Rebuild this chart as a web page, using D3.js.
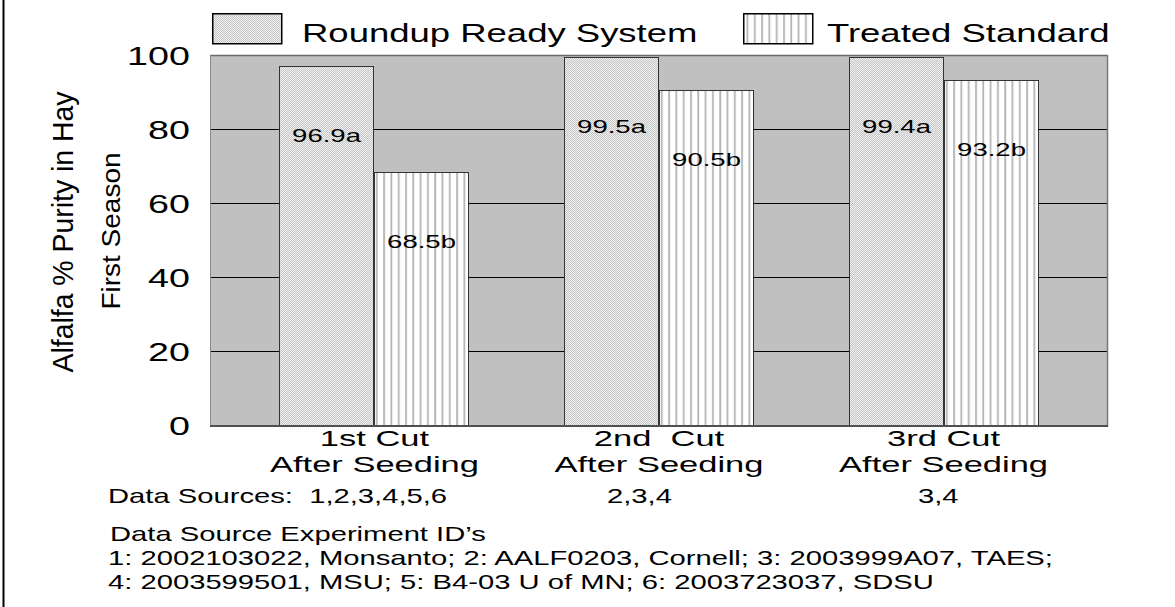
<!DOCTYPE html>
<html><head><meta charset="utf-8">
<script src="https://cdn.jsdelivr.net/npm/d3@7"></script>
<style>
body{margin:0;background:#fff}
svg{display:block}
text{font-family:"Liberation Sans",Arial,Helvetica,sans-serif;fill:#000;white-space:pre}
</style>
</head><body>
<svg id="chart" width="1175" height="607"></svg>
<script>
// ---------- data ----------
const categories = ["1st Cut", "2nd Cut", "3rd Cut"];
const categoryLine1 = ["1st Cut", "2nd  Cut", "3rd Cut"];
const categoryLine2 = ["After Seeding", "After Seeding", "After Seeding"];
const series = ["Roundup Ready System", "Treated Standard"];
const roundupValues = [96.9, 99.5, 99.4];
const treatedValues = [68.5, 90.5, 93.2];
const roundupLetters = ["a", "a", "a"];
const treatedLetters = ["b", "b", "b"];
const yTicks = [0, 20, 40, 60, 80, 100];
const gridTicks = [20, 40, 60, 80];
const yLabel = "Alfalfa % Purity in Hay";
const yLabel2 = "First Season";
const dataSourcesLabel = "Data Sources:  ";
const dataSources = ["1,2,3,4,5,6", "2,3,4", "3,4"];
const footTitle = "Data Source Experiment ID\u2019s";
const footLines = [
  "1: 2002103022, Monsanto; 2: AALF0203, Cornell; 3: 2003999A07, TAES;",
  "4: 2003599501, MSU; 5: B4-03 U of MN; 6: 2003723037, SDSU"
];

// ---------- layout ----------
const W = 1175, H = 607;
const plot = {left: 210, right: 1108, top: 55, bottom: 425};
const svg = d3.select("#chart");

const defs = svg.append("defs");
const pDots = defs.append("pattern").attr("id", "dots")
  .attr("width", 2).attr("height", 2).attr("patternUnits", "userSpaceOnUse");
pDots.append("rect").attr("width", 2).attr("height", 2).attr("fill", "#efefef");
pDots.append("rect").attr("width", 1).attr("height", 1).attr("fill", "#c6c6c6");
pDots.append("rect").attr("x", 1).attr("y", 1).attr("width", 1).attr("height", 1).attr("fill", "#c6c6c6");
const pStripe = defs.append("pattern").attr("id", "stripes")
  .attr("width", 7.3).attr("height", 10).attr("patternUnits", "userSpaceOnUse");
pStripe.append("rect").attr("width", 7.3).attr("height", 10).attr("fill", "#ffffff");
pStripe.append("rect").attr("x", 2).attr("width", 1.8).attr("height", 10).attr("fill", "#b4b4b4");
const fills = ["url(#dots)", "url(#stripes)"];

// helper: horizontally stretched text
function stext(g, s, x, y, size, sx, anchor) {
  return g.append("text")
    .attr("transform", `translate(${x},${y}) scale(${sx},1)`)
    .attr("text-anchor", anchor || "start")
    .attr("font-size", size)
    .text(s);
}

// outer left border
svg.append("line").attr("x1", 3.5).attr("x2", 3.5).attr("y1", 0).attr("y2", H)
  .attr("stroke", "#000").attr("stroke-width", 2);

// scales
const x0 = d3.scaleBand().domain(categories).range([plot.left, plot.right])
  .paddingInner(0.332).paddingOuter(0.244);
const x1 = d3.scaleBand().domain(series).range([0, x0.bandwidth()]);
const y = d3.scaleLinear().domain([0, 100]).range([plot.bottom, plot.top]);

// plot background
svg.append("rect").attr("x", plot.left).attr("y", plot.top)
  .attr("width", plot.right - plot.left).attr("height", plot.bottom - plot.top + 2)
  .attr("fill", "#c0c0c0");

// gridlines
svg.append("g").selectAll("line").data(gridTicks).join("line")
  .attr("x1", plot.left).attr("x2", plot.right)
  .attr("y1", d => Math.round(y(d)) + 0.5).attr("y2", d => Math.round(y(d)) + 0.5)
  .attr("stroke", "#000").attr("stroke-width", 1);

// frame
svg.append("line").attr("x1", plot.left).attr("x2", plot.right).attr("y1", plot.top + 0.5).attr("y2", plot.top + 0.5)
  .attr("stroke", "#6a6a6a").attr("stroke-width", 1.5);
svg.append("line").attr("x1", plot.left + 0.5).attr("x2", plot.left + 0.5).attr("y1", plot.top).attr("y2", plot.bottom + 2)
  .attr("stroke", "#888").attr("stroke-width", 1);
svg.append("line").attr("x1", plot.right - 0.5).attr("x2", plot.right - 0.5).attr("y1", plot.top).attr("y2", plot.bottom + 2)
  .attr("stroke", "#777").attr("stroke-width", 1.5);

// bars
const rows = categories.map((c, i) => ({
  cat: c,
  vals: [
    {s: series[0], v: roundupValues[i], lab: roundupValues[i].toFixed(1) + roundupLetters[i], k: 0},
    {s: series[1], v: treatedValues[i], lab: treatedValues[i].toFixed(1) + treatedLetters[i], k: 1}
  ]
}));
const groups = svg.append("g").selectAll("g").data(rows).join("g")
  .attr("transform", d => `translate(${Math.round(x0(d.cat))},0)`);
groups.selectAll("rect").data(d => d.vals).join("rect")
  .attr("x", d => Math.round(x1(d.s)) + 0.5)
  .attr("y", d => Math.round(y(d.v)) + 0.5)
  .attr("width", Math.round(x1.bandwidth()) - 1)
  .attr("height", d => Math.round(y(0)) - Math.round(y(d.v)))
  .attr("fill", d => fills[d.k])
  .attr("stroke", "#333").attr("stroke-width", 1);
groups.each(function(d) {
  const g = d3.select(this);
  d.vals.forEach(v => {
    stext(g, v.lab, x1(v.s) + x1.bandwidth() / 2, y(v.v) + 76, 18, 1.53, "middle");
  });
});

// bottom frame line
svg.append("line").attr("x1", plot.left).attr("x2", plot.right).attr("y1", plot.bottom + 1).attr("y2", plot.bottom + 1)
  .attr("stroke", "#505050").attr("stroke-width", 2);

// y tick labels
const yt = svg.append("g");
yTicks.forEach(t => stext(yt, String(t), 190, y(t) + 10, 26, 1.45, "end"));

// y axis title
svg.append("text").attr("transform", "translate(73,232) rotate(-90) scale(0.98,1)")
  .attr("text-anchor", "middle").attr("font-size", 29).text(yLabel);
svg.append("text").attr("transform", "translate(120,231) rotate(-90) scale(1.12,1)")
  .attr("text-anchor", "middle").attr("font-size", 25).text(yLabel2);

// x category labels
const xl = svg.append("g");
categories.forEach((c, i) => {
  const cx = x0(c) + x0.bandwidth() / 2;
  stext(xl, categoryLine1[i], cx, 446, 23, 1.5, "middle");
  stext(xl, categoryLine2[i], cx, 472, 23, 1.5, "middle");
});

// legend
const lg = svg.append("g");
const legendX = [212, 743], legendTextX = [302, 827];
series.forEach((s, i) => {
  lg.append("rect").attr("x", legendX[i] + 0.75).attr("y", 13.75).attr("width", 69).attr("height", 30)
    .attr("fill", fills[i]).attr("stroke", "#000").attr("stroke-width", 1.5);
  stext(lg, s, legendTextX[i], 42, 25, 1.46, "start");
});

// data sources and footnote
const ft = svg.append("g");
const dsX = [108, 607, 918];
stext(ft, dataSourcesLabel + dataSources[0], dsX[0], 503, 20, 1.46, "start");
dataSources.forEach((d, i) => { if (i > 0) stext(ft, d, dsX[i], 503, 20, 1.46, "start"); });
stext(ft, footTitle, 110, 541, 20, 1.46, "start");
footLines.forEach((l, i) => stext(ft, l, 108, 565 + i * 24, 20, 1.46, "start"));
</script>
</body></html>
